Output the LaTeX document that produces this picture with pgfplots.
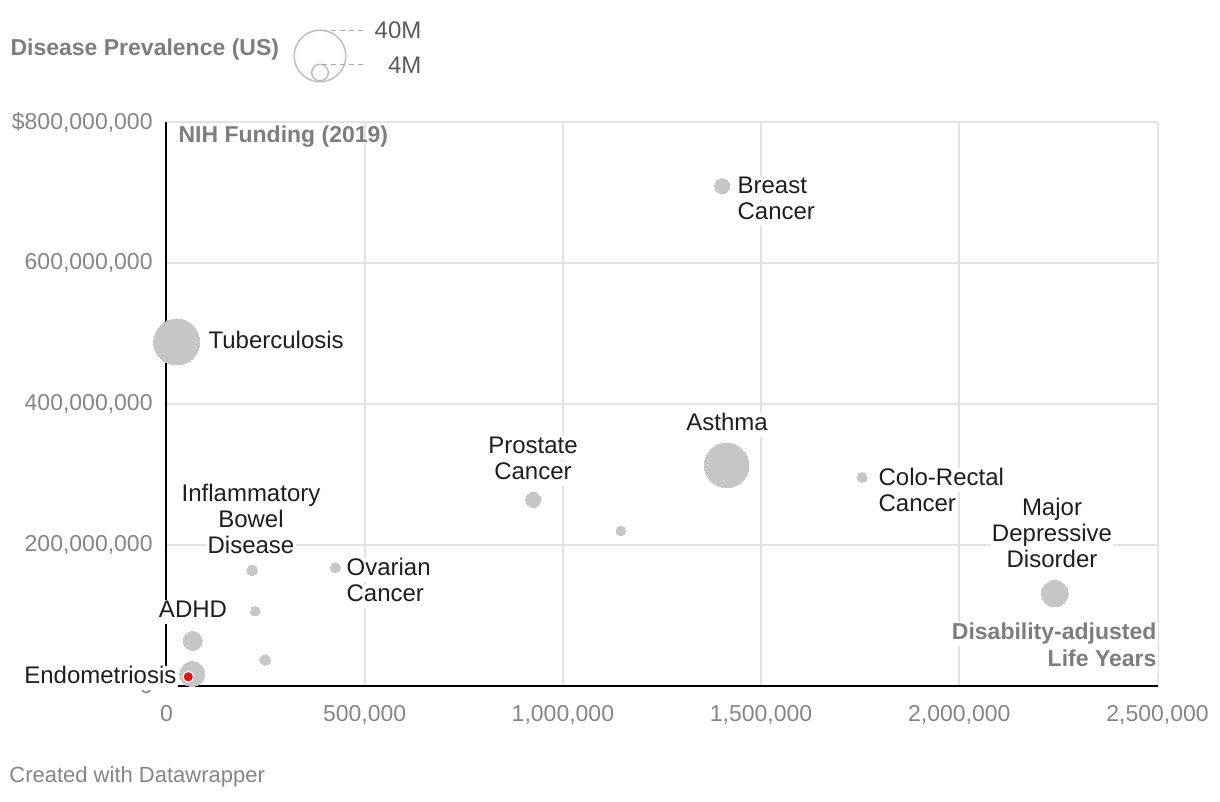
\documentclass[border=0pt]{standalone}
\usepackage{pgfplots}
\pgfplotsset{compat=1.18}
\usepackage{pgfplotstable}
\usepackage{fontspec}
\setmainfont{Liberation Sans}
\definecolor{bubble}{HTML}{C6C6C6}
\definecolor{redpt}{HTML}{CF1B1B}
\definecolor{gridc}{HTML}{E3E3E3}
\definecolor{tickc}{HTML}{858585}
\definecolor{titlec}{HTML}{7D7D7D}
\definecolor{labc}{HTML}{1E1E1E}
\definecolor{legc}{HTML}{BDBDBD}
\definecolor{legd}{HTML}{ABABAB}
\definecolor{legt}{HTML}{5A5A5A}

% x = DALYs, y = NIH funding (USD), r = bubble radius (pt)
\pgfplotstableread{
x y r
25700 488000000 11.5
1413000 313000000 11.15
2241000 131000000 6.65
65000 17000000 6.25
66000 64000000 4.75
1402000 709000000 3.75
925000 264000000 3.75
216000 164000000 2.65
249000 37000000 2.65
1755000 296000000 2.5
426000 168000000 2.5
224000 106000000 2.35
1146000 220000000 2.35
}\bubbles
\pgfplotstableread{
x y r
55000 13000000 2.65
}\endo

\newcommand{\fs}{\fontsize{11.5}{13}\selectfont}
\newcommand{\fl}{\fontsize{12}{13}\selectfont}
\tikzset{lab/.style={font=\fl, text=labc, fill=white, inner sep=0.6pt, text height=8.6pt, text depth=2.6pt, yshift=-1pt},
  ttl/.style={lab, font=\fs\bfseries, text=titlec}}

\begin{document}
\begin{tikzpicture}
\begin{axis}[
  scale only axis, width=495.5pt, height=282pt,
  xmin=0, xmax=2500000, ymin=0, ymax=800000000,
  axis lines*=left,
  axis line style={black, line width=1pt},
  grid=major, major grid style={gridc, line width=1pt},
  major tick length=0pt,
  scaled ticks=false,
  xtick={0,500000,1000000,1500000,2000000,2500000},
  xticklabels={{0},{500,000},{1,000,000},{1,500,000},{2,000,000},{2,500,000}},
  ytick={0,200000000,400000000,600000000,800000000},
  yticklabels={{0},{200,000,000},{400,000,000},{600,000,000},{\$800,000,000}},
  tick label style={font=\fs, text=tickc, inner sep=0pt},
  xticklabel style={anchor=north, yshift=-9.5pt},
  yticklabel style={anchor=east, xshift=-6.75pt},
  clip=false,
]
\addplot[scatter, only marks, mark=*,
  mark options={draw=bubble, fill=bubble, line width=0pt},
  scatter/use mapped color={draw=bubble, fill=bubble},
  visualization depends on={\thisrow{r} \as \rr},
  scatter/@pre marker code/.append style={/tikz/mark size=\rr}]
  table[x=x, y=y] {\bubbles};
\addplot[only marks, mark=*, mark size=2.65pt, mark options={fill=redpt, draw=white, line width=0.5pt}] table[x=x,y=y]{\endo};
\end{axis}
\begin{scope}[x=0.5pt, y=-0.5pt, shift={(-83.25pt,343pt)}]
% point labels
\node[lab, anchor=west] at (736,186) {Breast};
\node[lab, anchor=west] at (736,212) {Cancer};
\node[lab, anchor=west] at (207,341) {Tuberculosis};
\node[lab] at (727,423) {Asthma};
\node[lab] at (533,446) {Prostate};
\node[lab] at (533,472) {Cancer};
\node[lab, anchor=west] at (877,478) {Colo-Rectal};
\node[lab, anchor=west] at (877,504) {Cancer};
\node[lab] at (1052,508) {Major};
\node[lab] at (1052,534) {Depressive};
\node[lab] at (1052,560) {Disorder};
\node[lab] at (251,494) {Inflammatory};
\node[lab] at (251,520) {Bowel};
\node[lab] at (251,546) {Disease};
\node[lab, anchor=west] at (345,568) {Ovarian};
\node[lab, anchor=west] at (345,594) {Cancer};
\node[lab] at (193,610) {ADHD};
\node[lab, anchor=east] at (178,676) {Endometriosis};
% axis titles
\node[ttl, fill=none, anchor=west] at (177,135) {NIH Funding (2019)};
\node[ttl, anchor=east] at (1158,632) {Disability-adjusted};
\node[ttl, anchor=east] at (1158,659) {Life Years};
% size legend
\node[ttl, fill=none, anchor=west] at (9,48) {Disease Prevalence (US)};
\draw[legc, line width=0.75pt] (320,56) circle[radius=12.9pt];
\draw[legc, line width=0.75pt] (320,72.6) circle[radius=4.15pt];
\draw[legd, line width=0.6pt, dash pattern=on 2.5pt off 2pt] (322,30.5) -- (363,30.5);
\draw[legd, line width=0.6pt, dash pattern=on 2.5pt off 2pt] (322,64.4) -- (363,64.4);
\node[lab, fill=none, text=legt, anchor=east] at (423,31) {40M};
\node[lab, fill=none, text=legt, anchor=east] at (423,66) {4M};
% footer
\node[anchor=west, font=\fontsize{11}{12}\selectfont, text=tickc, inner sep=0pt] at (9,777) {Created with Datawrapper};
\pgfresetboundingbox
\path[use as bounding box] (0,0) rectangle (1220,802);
\end{scope}
\end{tikzpicture}
\end{document}
